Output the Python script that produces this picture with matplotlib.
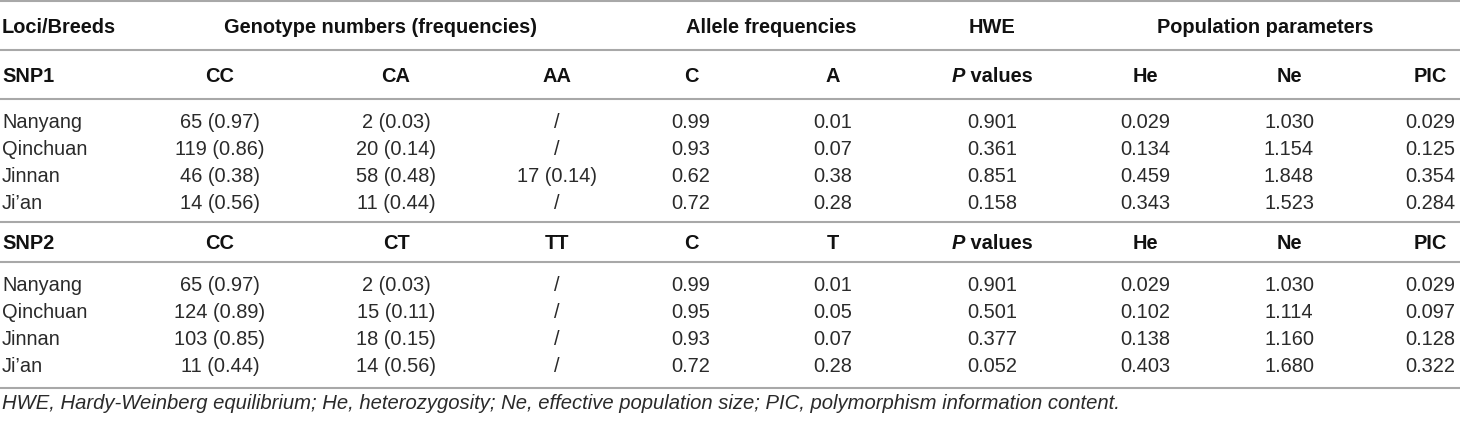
import matplotlib
matplotlib.use("Agg")
import matplotlib.pyplot as plt

# ---- table data ----
breeds = ["Nanyang", "Qinchuan", "Jinnan", "Ji\u2019an"]

# SNP1
snp1_cc_n = [65, 119, 46, 14]
snp1_cc_f = [0.97, 0.86, 0.38, 0.56]
snp1_ca_n = [2, 20, 58, 11]
snp1_ca_f = [0.03, 0.14, 0.48, 0.44]
snp1_aa_n = [None, None, 17, None]
snp1_aa_f = [None, None, 0.14, None]
snp1_c = [0.99, 0.93, 0.62, 0.72]
snp1_a = [0.01, 0.07, 0.38, 0.28]
snp1_p = [0.901, 0.361, 0.851, 0.158]
snp1_he = [0.029, 0.134, 0.459, 0.343]
snp1_ne = [1.030, 1.154, 1.848, 1.523]
snp1_pic = [0.029, 0.125, 0.354, 0.284]

# SNP2
snp2_cc_n = [65, 124, 103, 11]
snp2_cc_f = [0.97, 0.89, 0.85, 0.44]
snp2_ct_n = [2, 15, 18, 14]
snp2_ct_f = [0.03, 0.11, 0.15, 0.56]
snp2_tt_n = [None, None, None, None]
snp2_tt_f = [None, None, None, None]
snp2_c = [0.99, 0.95, 0.93, 0.72]
snp2_t = [0.01, 0.05, 0.07, 0.28]
snp2_p = [0.901, 0.501, 0.377, 0.052]
snp2_he = [0.029, 0.102, 0.138, 0.403]
snp2_ne = [1.030, 1.114, 1.160, 1.680]
snp2_pic = [0.029, 0.097, 0.128, 0.322]

group_headers = ["Genotype numbers (frequencies)", "Allele frequencies", "HWE", "Population parameters"]
footnote = ("HWE, Hardy-Weinberg equilibrium; He, heterozygosity; Ne, effective population size; "
            "PIC, polymorphism information content.")

W, H = 1460, 421
fig = plt.figure(figsize=(W / 100, H / 100), dpi=100)
ax = fig.add_axes([0, 0, 1, 1])
ax.set_xlim(0, W)
ax.set_ylim(H, 0)
ax.axis("off")

plt.rcParams["font.family"] = ["Liberation Sans", "DejaVu Sans"]
fs = 14.4
body = "#2a2a2a"
bold_c = "#111111"
line_c = "#a8a8a8"

# column centres (pixels)
col_x = [220, 396, 557, 691, 833, 992, 1145, 1289, 1430]
group_x = [380, 771, 992, 1265]


def hline(y):
    ax.plot([0, W], [y, y], color=line_c, lw=1.5, solid_capstyle="butt")


for y in [1, 49.5, 99, 222, 262, 388]:
    hline(y)


def txt(x, y, s, ha="center", weight="normal", style="normal", color=body, size=fs):
    return ax.text(x, y, s, ha=ha, va="baseline", fontsize=size, fontweight=weight,
                   fontstyle=style, color=color)


# header row
txt(2, 33, "Loci/Breeds", ha="left", weight="bold", color=bold_c)
for gx, g in zip(group_x, group_headers):
    txt(gx, 33, g, weight="bold", color=bold_c)


def fmt_geno(n, f):
    if n is None:
        return "/"
    return "%d (%.2f)" % (n, f)


def sub_header(y, name, geno, alle):
    txt(2, y, name, ha="left", weight="bold", color=bold_c)
    labels = geno + alle
    for x, s in zip(col_x[:5], labels):
        txt(x, y, s, weight="bold", color=bold_c)
    # "P values" with italic P
    fig.canvas.draw()
    r = fig.canvas.get_renderer()
    tp = txt(0, y, "P", ha="left", weight="bold", style="italic", color=bold_c)
    tv = txt(0, y, " values", ha="left", weight="bold", color=bold_c)
    wp = tp.get_window_extent(r).width
    wv = tv.get_window_extent(r).width
    x0 = col_x[5] - (wp + wv) / 2
    tp.set_x(x0)
    tv.set_x(x0 + wp)
    for x, s in zip(col_x[6:], ["He", "Ne", "PIC"]):
        txt(x, y, s, weight="bold", color=bold_c)


def block(y0, cn, cf, hn, hf, on, of, c1, c2, p, he, ne, pic):
    for i, b in enumerate(breeds):
        y = y0 + i * 27
        txt(2, y, b, ha="left")
        vals = [fmt_geno(cn[i], cf[i]), fmt_geno(hn[i], hf[i]), fmt_geno(on[i], of[i]),
                "%.2f" % c1[i], "%.2f" % c2[i], "%.3f" % p[i],
                "%.3f" % he[i], "%.3f" % ne[i], "%.3f" % pic[i]]
        for x, s in zip(col_x, vals):
            txt(x, y, s)


sub_header(82, "SNP1", ["CC", "CA", "AA"], ["C", "A"])
block(128, snp1_cc_n, snp1_cc_f, snp1_ca_n, snp1_ca_f, snp1_aa_n, snp1_aa_f,
      snp1_c, snp1_a, snp1_p, snp1_he, snp1_ne, snp1_pic)

sub_header(249, "SNP2", ["CC", "CT", "TT"], ["C", "T"])
block(291, snp2_cc_n, snp2_cc_f, snp2_ct_n, snp2_ct_f, snp2_tt_n, snp2_tt_f,
      snp2_c, snp2_t, snp2_p, snp2_he, snp2_ne, snp2_pic)

txt(2, 409, footnote, ha="left", style="italic", size=14.6)

fig.savefig("out.png", dpi=100)
